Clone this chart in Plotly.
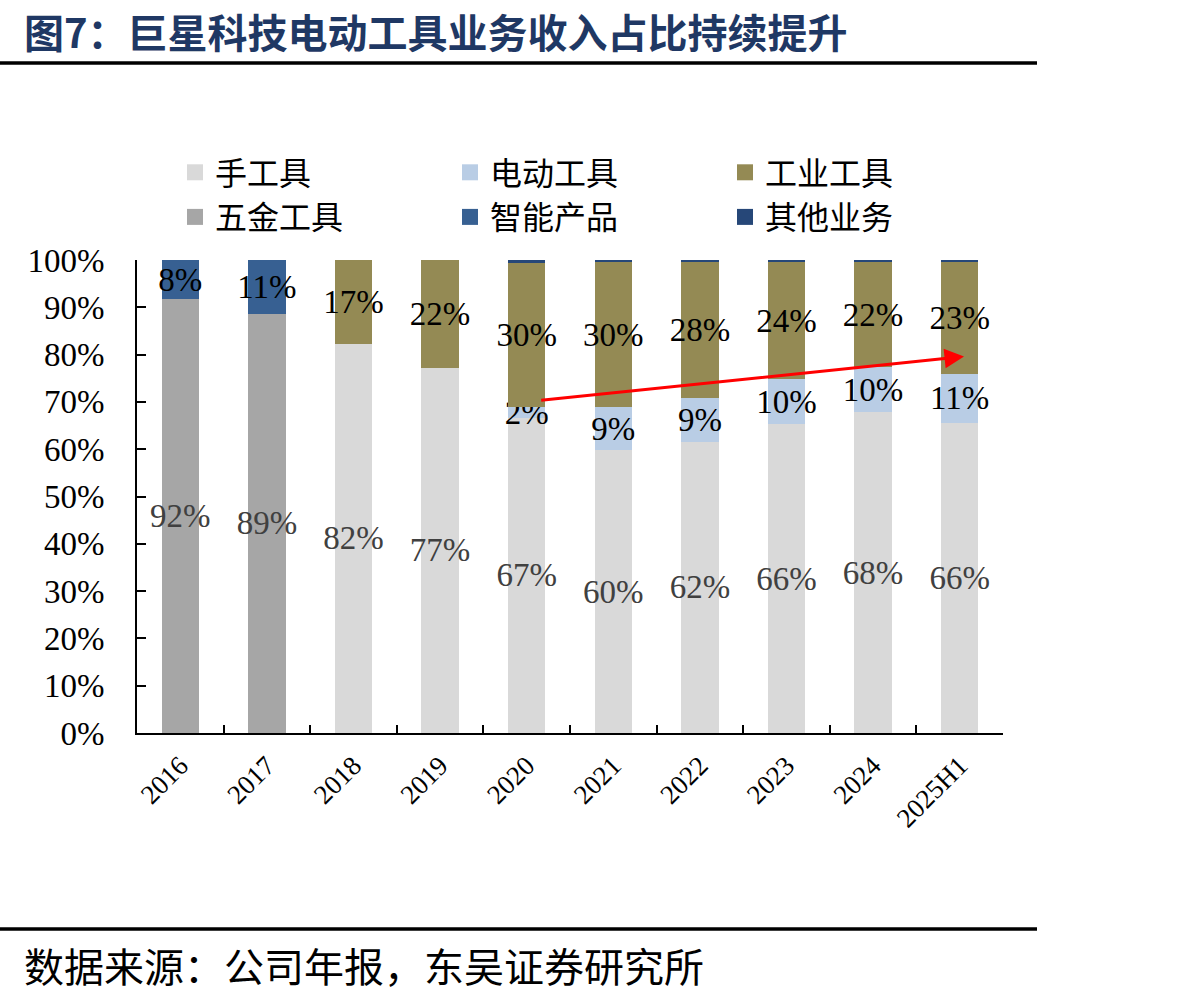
import plotly.graph_objects as go

categories = ["2016", "2017", "2018", "2019", "2020", "2021", "2022", "2023", "2024", "2025H1"]

hand_tools = [0, 0, 82.3, 77.2, 66.6, 59.8, 61.6, 65.3, 67.8, 65.5]
power_tools = [0, 0, 0, 0, 2.3, 9.1, 9.3, 9.5, 9.5, 10.5]
industrial_tools = [0, 0, 17.7, 22.8, 30.5, 30.6, 28.6, 24.7, 22.2, 23.5]
hardware_tools = [91.7, 88.6, 0, 0, 0, 0, 0, 0, 0, 0]
smart_products = [8.3, 11.4, 0, 0, 0, 0, 0, 0, 0, 0]
other_business = [0, 0, 0, 0, 0.6, 0.5, 0.5, 0.5, 0.5, 0.5]

hand_labels = ["", "", "82%", "77%", "67%", "60%", "62%", "66%", "68%", "66%"]
power_labels = ["", "", "", "", "2%", "9%", "9%", "10%", "10%", "11%"]
industrial_labels = ["", "", "17%", "22%", "30%", "30%", "28%", "24%", "22%", "23%"]
hardware_labels = ["92%", "89%", "", "", "", "", "", "", "", ""]
smart_labels = ["8%", "11%", "", "", "", "", "", "", "", ""]
other_labels = [""] * 10

y_ticks = [0, 10, 20, 30, 40, 50, 60, 70, 80, 90, 100]

title_text = "<b>图7：巨星科技电动工具业务收入占比持续提升</b>"
source_text = "数据来源：公司年报，东吴证券研究所"

# arrow (trend annotation) endpoints in axis coordinates
arrow_start = (4.15, 70.3)
arrow_end = (9.05, 79.6)

SERIF = "Liberation Serif, Times New Roman, serif"
CJK = "Noto Sans CJK SC"

series = [
    ("手工具", hand_tools, hand_labels, "#D9D9D9", "#404040"),
    ("电动工具", power_tools, power_labels, "#B9CDE5", "#000000"),
    ("工业工具", industrial_tools, industrial_labels, "#948A54", "#000000"),
    ("五金工具", hardware_tools, hardware_labels, "#A6A6A6", "#404040"),
    ("智能产品", smart_products, smart_labels, "#376092", "#000000"),
    ("其他业务", other_business, other_labels, "#264778", "#000000"),
]

W, H = 1192, 1002
L, R, T, B = 137, 189, 260, 269
pw, ph = W - L - R, H - T - B


def px_x(x):
    return (x - L) / pw


def px_y(y):
    return (H - B - y) / ph


fig = go.Figure()
for name, vals, labels, color, tcolor in series:
    fig.add_trace(go.Bar(
        x=categories, y=vals, name=name, showlegend=False,
        marker=dict(color=color, line=dict(width=0)),
        text=labels, textposition="inside", textangle=0,
        insidetextanchor="middle", constraintext="none",
        textfont=dict(family=SERIF, size=33, color=tcolor),
        insidetextfont=dict(family=SERIF, size=33, color=tcolor),
        cliponaxis=False, hoverinfo="skip",
    ))
# legend entries with larger square swatches
for name, vals, labels, color, tcolor in series:
    fig.add_trace(go.Scatter(
        x=[None], y=[None], name=name, mode="markers",
        marker=dict(symbol="square", size=17, color=color),
        showlegend=True, hoverinfo="skip",
    ))

fig.add_annotation(
    x=arrow_end[0], y=arrow_end[1], ax=arrow_start[0], ay=arrow_start[1],
    xref="x", yref="y", axref="x", ayref="y",
    showarrow=True, arrowhead=2, arrowsize=1.3, arrowwidth=3,
    arrowcolor="#FF0000", text="",
)

fig.add_annotation(
    x=px_x(22), y=px_y(31), xref="paper", yref="paper", text=title_text,
    showarrow=False, xanchor="left", yanchor="middle",
    font=dict(family=CJK, size=40, color="#1F3864"),
)
fig.add_annotation(
    x=px_x(22), y=px_y(965), xref="paper", yref="paper", text=source_text,
    showarrow=False, xanchor="left", yanchor="middle",
    font=dict(family=CJK, size=40, color="#000000"),
)

fig.add_shape(type="line", xref="paper", yref="paper",
              x0=px_x(0), x1=px_x(1037), y0=px_y(63), y1=px_y(63),
              line=dict(color="#000000", width=3.5))
fig.add_shape(type="line", xref="paper", yref="paper",
              x0=px_x(0), x1=px_x(1037), y0=px_y(929), y1=px_y(929),
              line=dict(color="#000000", width=3.5))

fig.update_layout(
    width=W, height=H,
    margin=dict(l=L, r=R, t=T, b=B, pad=0),
    paper_bgcolor="white", plot_bgcolor="white",
    barmode="stack", bargap=0.567,
    showlegend=True,
    legend=dict(
        orientation="h", x=px_x(175), xanchor="left",
        y=px_y(145), yanchor="top",
        entrywidth=230, entrywidthmode="pixels",
        traceorder="normal",
        font=dict(family=CJK, size=32, color="#000000"),
        bgcolor="rgba(0,0,0,0)", itemclick=False,
    ),
    xaxis=dict(
        type="category", showline=True, linecolor="#000000", linewidth=2,
        ticks="inside", tickson="boundaries", ticklen=8, tickwidth=2, tickcolor="#000000",
        tickangle=-45, tickfont=dict(family=SERIF, size=27, color="#000000"),
        ticklabelstandoff=4,
        showgrid=False, zeroline=False, fixedrange=True,
    ),
    yaxis=dict(
        range=[0, 100], tickvals=y_ticks, ticktext=[f"{v}%" for v in y_ticks],
        showline=True, linecolor="#000000", linewidth=2,
        ticks="inside", ticklen=9, tickwidth=2, tickcolor="#000000",
        tickfont=dict(family=SERIF, size=33, color="#000000"),
        ticklabelstandoff=24,
        showgrid=False, zeroline=False, fixedrange=True,
    ),
)

fig.write_html("out.html")
